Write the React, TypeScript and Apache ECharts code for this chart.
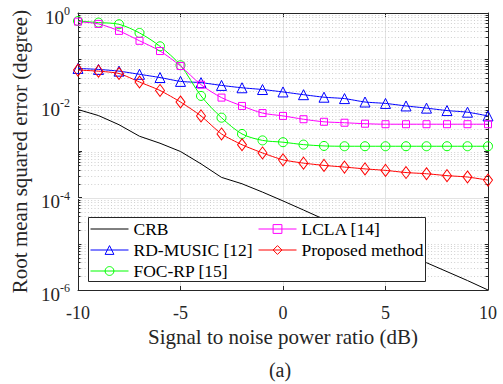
import React, { useEffect, useRef } from "react";
import * as echarts from "echarts";

const snr = [-10, -9, -8, -7, -6, -5, -4, -3, -2, -1, 0, 1, 2, 3, 4, 5, 6, 7, 8, 9, 10];
const crb = [8.1e-3, 6.0e-3, 3.8e-3, 2.14e-3, 1.51e-3, 1.0e-3, 5.4e-4, 2.75e-4, 2.0e-4, 1.32e-4, 8.5e-5, 5.4e-5, 3.4e-5, 2.1e-5, 1.35e-5, 8.9e-6, 5.9e-6, 3.9e-6, 2.5e-6, 1.6e-6, 1.0e-6];
const rdMusic = [0.063, 0.06, 0.055, 0.047, 0.04, 0.033, 0.031, 0.027, 0.024, 0.022, 0.0195, 0.017, 0.015, 0.014, 0.0118, 0.011, 0.0097, 0.0087, 0.0077, 0.0071, 0.0059];
const focRp = [0.67, 0.62, 0.57, 0.37, 0.19, 0.074, 0.016, 0.0054, 0.0024, 0.00174, 0.00159, 0.00141, 0.00132, 0.0013, 0.0013, 0.0013, 0.0013, 0.0013, 0.0013, 0.0013, 0.0013];
const lcla = [0.65, 0.58, 0.41, 0.25, 0.15, 0.071, 0.028, 0.0147, 0.0097, 0.0068, 0.0059, 0.005, 0.0044, 0.0042, 0.004, 0.0039, 0.0039, 0.0039, 0.0039, 0.0039, 0.0039];
const proposed = [0.058, 0.055, 0.049, 0.032, 0.021, 0.0118, 0.0059, 0.0024, 0.0014, 0.00093, 0.00066, 0.00056, 0.0005, 0.00046, 0.00042, 0.00039, 0.00035, 0.00033, 0.0003, 0.00028, 0.00024];

const legendCol1 = ["CRB", "RD-MUSIC [12]", "FOC-RP [15]"];
const legendCol2 = ["LCLA [14]", "Proposed method"];

const FONT = "'Liberation Serif', 'DejaVu Serif', serif";
const AX = "#262626";

export default function App() {
  const ref = useRef<HTMLDivElement>(null);
  useEffect(() => {
    if (!ref.current) return;
    const chart = echarts.init(ref.current, undefined, { renderer: "svg" });

    const gridVals: number[][] = [];
    for (let k = -6; k <= -1; k++) {
      for (let m = 2; m <= 9; m++) gridVals.push([-10, m * Math.pow(10, k), 0]);
    }
    [-1, -3, -5].forEach((k) => gridVals.push([-10, Math.pow(10, k), 0]));
    [-2, -4].forEach((k) => gridVals.push([-10, Math.pow(10, k), 1]));

    const pairs = (arr: number[]) => snr.map((x, i) => [x, arr[i]]);

    const mk = (name: string, data: number[], color: string, symbol: string, size: any, smooth: number) => ({
      name,
      type: "line",
      data: pairs(data),
      xAxisIndex: 0,
      yAxisIndex: 0,
      smooth,
      symbol,
      symbolSize: size,
      showSymbol: symbol !== "none",
      lineStyle: { color, width: 1 },
      itemStyle: { color: "rgba(255,255,255,0)", borderColor: color, borderWidth: 1 },
      z: 3,
    });

    const legendBase = {
      orient: "vertical",
      top: 220,
      itemWidth: 38,
      itemHeight: 11,
      itemGap: 3,
      padding: 0,
      lineStyle: { width: 1 },
      itemStyle: { borderWidth: 1 },
      textStyle: { fontSize: 17.5, fontFamily: FONT, color: "#000", lineHeight: 17.5 },
      z: 6,
    };

    const col1Data = legendCol1.map((n) =>
      n === "CRB"
        ? { name: n, itemStyle: { opacity: 0, color: "rgba(0,0,0,0)", borderColor: "rgba(0,0,0,0)" } }
        : { name: n }
    );

    chart.setOption({
      animation: false,
      backgroundColor: "#ffffff",
      grid: { left: 78, right: 15, top: 13, bottom: 94, show: false },
      xAxis: [
        {
          type: "value",
          min: -10,
          max: 10,
          interval: 5,
          position: "bottom",
          axisLine: { show: true, onZero: false, lineStyle: { color: AX, width: 1 } },
          axisTick: { show: true, inside: true, length: 4, lineStyle: { color: AX } },
          axisLabel: { fontSize: 18, fontFamily: FONT, color: AX, margin: 14 },
          splitLine: { show: true, lineStyle: { color: "#e3e3e3", width: 1 } },
          name: "Signal to noise power ratio (dB)",
          nameLocation: "middle",
          nameGap: 33,
          nameTextStyle: { fontSize: 21, fontFamily: FONT, color: AX },
        },
        {
          type: "value",
          min: -10,
          max: 10,
          interval: 5,
          position: "top",
          axisLine: { show: true, onZero: false, lineStyle: { color: AX, width: 1 } },
          axisTick: { show: true, inside: true, length: 4, lineStyle: { color: AX } },
          axisLabel: { show: false },
          splitLine: { show: false },
        },
      ],
      yAxis: [
        {
          type: "log",
          logBase: 10,
          min: 1e-6,
          max: 1,
          position: "left",
          axisLine: { show: true, onZero: false, lineStyle: { color: AX, width: 1 } },
          axisTick: { show: true, inside: true, length: 4, lineStyle: { color: AX } },
          splitLine: { show: false },
          axisLabel: {
            margin: 8,
            formatter: (v: number) => {
              const e = Math.round(Math.log10(v));
              if (e % 2 !== 0) return "";
              return `{b|10}{e|${e}}`;
            },
            rich: {
              b: { fontSize: 19, fontFamily: FONT, color: AX, verticalAlign: "middle", padding: [8, 0, 0, 0] },
              e: { fontSize: 12, fontFamily: FONT, color: AX, verticalAlign: "middle", padding: [0, 0, 4, 0] },
            },
          },
          name: "Root mean squared error (degree)",
          nameLocation: "middle",
          nameGap: 44,
          nameTextStyle: { fontSize: 21, fontFamily: FONT, color: AX },
        },
        {
          type: "log",
          logBase: 10,
          min: 1e-6,
          max: 1,
          position: "right",
          axisLine: { show: true, onZero: false, lineStyle: { color: AX, width: 1 } },
          axisTick: { show: true, inside: true, length: 4, lineStyle: { color: AX } },
          axisLabel: { show: false },
          splitLine: { show: false },
        },
      ],
      legend: [
        { ...legendBase, data: col1Data, left: 90 },
        { ...legendBase, data: legendCol2, left: 258 },
      ],
      graphic: [
        {
          type: "rect",
          z: 5,
          shape: { x: 88.5, y: 217.5, width: 337, height: 64 },
          style: { fill: "#ffffff", stroke: AX, lineWidth: 1 },
          silent: true,
        },
        {
          type: "text",
          z: 5,
          x: 280,
          y: 370,
          style: {
            text: "(a)",
            font: `20px ${FONT}`,
            fill: AX,
            textAlign: "center",
            textVerticalAlign: "middle",
          },
        },
      ],
      series: [
        {
          type: "custom",
          name: "grid",
          xAxisIndex: 0,
          yAxisIndex: 0,
          z: 1,
          silent: true,
          dimensions: ["x", "y", "kind"],
          encode: { x: 0, y: 1 },
          data: gridVals,
          renderItem: (params: any, api: any) => {
            const v = api.value(1);
            const kind = api.value(2);
            const p0 = api.coord([-10, v]);
            const p1 = api.coord([10, v]);
            const y = Math.round(p0[1]) + 0.5;
            const children: any[] = [
              {
                type: "line",
                shape: { x1: p0[0], y1: y, x2: p1[0], y2: y },
                style: kind === 1
                  ? { stroke: "#e3e3e3", lineWidth: 1 }
                  : { stroke: "#cfcfcf", lineWidth: 1, lineDash: [1, 2.3] },
              },
            ];
            if (kind === 0) {
              children.push(
                { type: "line", shape: { x1: p0[0], y1: y, x2: p0[0] + 2.5, y2: y }, style: { stroke: AX, lineWidth: 1 } },
                { type: "line", shape: { x1: p1[0] - 2.5, y1: y, x2: p1[0], y2: y }, style: { stroke: AX, lineWidth: 1 } }
              );
            }
            return { type: "group", children };
          },
        },
        mk("CRB", crb, "#000000", "none", 0, 0),
        mk("RD-MUSIC [12]", rdMusic, "#0000ff", "triangle", 10, 0.2),
        mk("FOC-RP [15]", focRp, "#00ff00", "circle", 9, 0.3),
        mk("LCLA [14]", lcla, "#ff00ff", "rect", 7, 0.3),
        mk("Proposed method", proposed, "#ff0000", "diamond", [9, 12], 0.2),
      ],
    });
    return () => chart.dispose();
  }, []);
  return <div ref={ref} style={{ position: "fixed", left: 0, top: 0, width: 503, height: 384 }} />;
}
